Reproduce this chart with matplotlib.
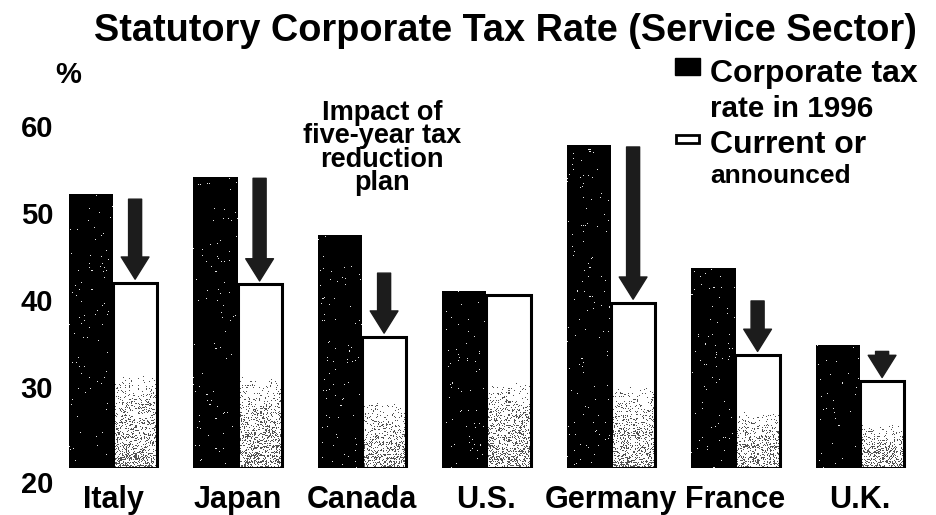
import numpy as np
import matplotlib
matplotlib.use('Agg')
import matplotlib.pyplot as plt
from matplotlib.patches import Rectangle
from matplotlib.transforms import ScaledTranslation

plt.rcParams['font.family'] = ['Liberation Sans', 'DejaVu Sans']
plt.rcParams['font.weight'] = 'bold'

COUNTRIES = ['Italy', 'Japan', 'Canada', 'U.S.', 'Germany', 'France', 'U.K.']
RATE_1996 = [51.5, 53.4, 46.8, 40.3, 57.1, 43.0, 34.1]
RATE_NOW = [41.3, 41.1, 35.1, 39.9, 39.0, 33.0, 30.0]
# where each reduction arrow starts (None = no arrow)
ARROW_FROM = [50.9, 53.3, 42.4, None, 56.9, 39.2, 33.4]
YTICKS = [20, 30, 40, 50, 60]

W, H = 937, 515
fig = plt.figure(figsize=(W / 100, H / 100), dpi=100)
fig.patch.set_facecolor('white')


def fx(px):
    return px / W


def fy(py):
    return 1 - py / H


# axes: x=0 at 113px, one group = 124.5px; y=20 at 468px, 8.7px per point
left_px, right_px, top_px, bot_px = 60, 930, 60, 468
ax = fig.add_axes([fx(left_px), fy(bot_px), (right_px - left_px) / W, (bot_px - top_px) / H])
ax.set_xlim((left_px - 113) / 124.5, (right_px - 113) / 124.5)
ax.set_ylim(20, 20 + (bot_px - top_px) / 8.7)
for s in ax.spines.values():
    s.set_visible(False)

x = np.arange(len(COUNTRIES))
bw = 0.355
b_old = ax.bar(x - bw / 2, np.array(RATE_1996) - 20, bw, bottom=20, color='black',
               linewidth=0, zorder=2)
b_new = ax.bar(x + bw / 2, np.array(RATE_NOW) - 20, bw, bottom=20, color='white',
               linewidth=0, zorder=2)

# scanned-print grain: white flecks on the dark bars, grey speckle low in the light bars
rng = np.random.default_rng(7)
for b in b_old:
    h = int(b.get_height() * 8.7)
    img = np.zeros((h, 44, 4))
    img[..., :3] = 1
    img[..., 3] = (rng.random((h, 44)) < 0.008) * 0.9
    ax.imshow(img, extent=(b.get_x(), b.get_x() + b.get_width(), 20, 20 + b.get_height()),
              interpolation='nearest', aspect='auto', zorder=3, clip_path=b, clip_on=True)
for b in b_new:
    h = int(b.get_height() * 8.7)
    frac = np.linspace(1, 0, h)[:, None]  # 1 at top row, 0 at bottom
    dens = np.clip((0.5 - frac) / 0.5, 0, 1) ** 0.7 * 0.5
    streaks = 0.6 + 0.4 * (rng.random((h, 1)) < 0.3)
    img = np.zeros((h, 44, 4))
    img[..., :3] = 0.2
    img[..., 3] = (rng.random((h, 44)) < dens * streaks) * 0.85
    ax.imshow(img, extent=(b.get_x(), b.get_x() + b.get_width(), 20, 20 + b.get_height()),
              interpolation='nearest', aspect='auto', zorder=3, clip_path=b, clip_on=True)
ax.bar(x + bw / 2, np.array(RATE_NOW) - 20, bw, bottom=20, fill=False,
       edgecolor='black', linewidth=2.2, zorder=4)

for xi, y0, y1 in zip(x, ARROW_FROM, RATE_NOW):
    if y0 is None:
        continue
    ax.annotate('', xy=(xi + bw / 2, y1 + 0.4), xytext=(xi + bw / 2, y0),
                arrowprops=dict(arrowstyle='simple,head_length=0.8,head_width=1.0,tail_width=0.47',
                                mutation_scale=20, color='#1c1c1c', shrinkA=0, shrinkB=0),
                zorder=5)

ax.set_xticks(x)
ax.set_xticklabels(COUNTRIES, fontsize=22, fontweight='bold')
ax.set_yticks(YTICKS)
ax.set_yticklabels([str(v) for v in YTICKS], fontsize=21, fontweight='bold')
ax.tick_params(length=0)
ax.tick_params(axis='x', pad=12)
ax.tick_params(axis='y', pad=5)
for i, lab in enumerate(ax.get_yticklabels()):
    dy = -10 if i == 0 else -4.5
    lab.set_transform(lab.get_transform() + ScaledTranslation(0, dy / 72, fig.dpi_scale_trans))

fig.text(fx(505), fy(31), 'Statutory Corporate Tax Rate (Service Sector)', fontsize=27.3,
         fontweight='bold', ha='center', va='center')
fig.text(fx(68), fy(75), '%', fontsize=21, fontweight='bold', ha='center', va='center')
fig.text(fx(382), fy(148), 'Impact of\nfive-year tax\nreduction\nplan', fontsize=19.5,
         fontweight='bold', ha='center', va='center', linespacing=0.88)

# legend, drawn by hand
fig.patches.append(Rectangle((fx(675), fy(75)), fx(25), 17 / H, transform=fig.transFigure,
                             facecolor='black', edgecolor='black'))
fig.patches.append(Rectangle((fx(676), fy(143)), fx(23), 8 / H, transform=fig.transFigure,
                             facecolor='white', edgecolor='black', linewidth=2))
fig.text(fx(710), fy(82), 'Corporate tax', fontsize=23, fontweight='bold', va='baseline')
fig.text(fx(710), fy(117), 'rate in 1996', fontsize=21.3, fontweight='bold', va='baseline')
fig.text(fx(710), fy(153), 'Current or', fontsize=23, fontweight='bold', va='baseline')
fig.text(fx(710), fy(183), 'announced', fontsize=19, fontweight='bold', va='baseline')

fig.savefig('out.png', dpi=100)
